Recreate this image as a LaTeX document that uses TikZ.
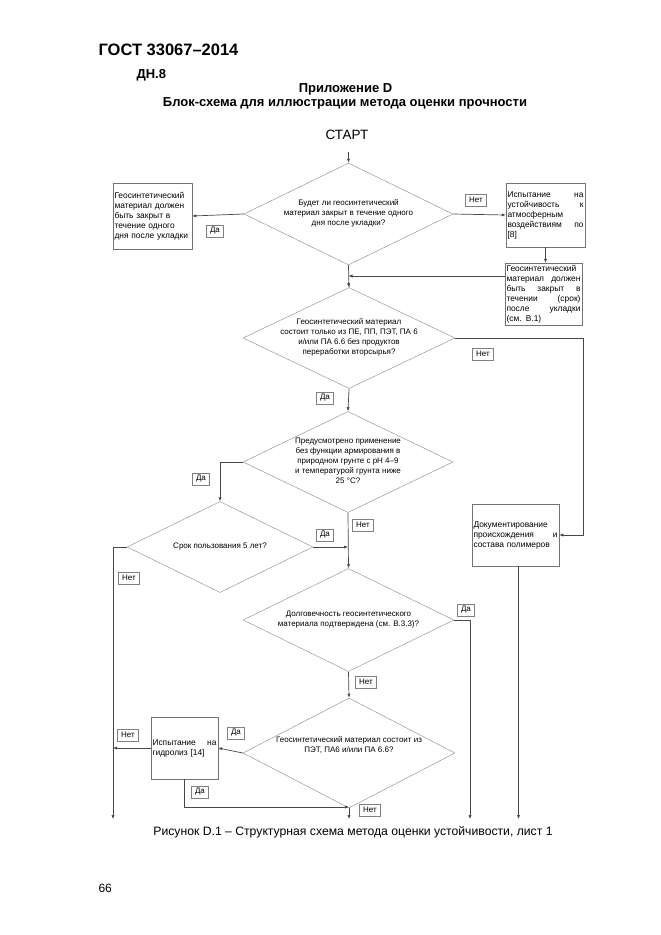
\documentclass[tikz,border=0pt]{standalone}
\usepackage{fontspec}
\setmainfont{Liberation Sans}
\usetikzlibrary{arrows.meta,shapes.geometric,calc}
\newcommand\dtext[2][-2]{\raisebox{#1pt}{\makebox[0pt]{\smash{\begin{tabular}{@{}c@{}}#2\end{tabular}}}}}
\begin{document}
\begin{tikzpicture}[x=1pt,y=-1pt,
 conn/.style={draw=black!72,line width=0.7pt},
 arr/.style={conn,-{Latex[length=4pt,width=3.2pt]}},
 dia/.style={diamond,draw=black!40,line width=0.5pt,inner sep=0pt,font=\fontsize{8}{10}\selectfont},
 bx/.style={rectangle,draw=black!55,line width=0.5pt,inner xsep=1.5pt,inner ysep=0pt,align=left,font=\fontsize{8.4}{10}\selectfont},
 lab/.style={draw=black!50,line width=0.4pt,inner xsep=3.5pt,inner ysep=1.5pt,minimum height=12pt,font=\fontsize{8}{9}\selectfont}]
\useasboundingbox[fill=white] (0,0) rectangle (661,935);

% header
\node[anchor=base west,font=\fontsize{16.5}{18}\selectfont\bfseries] (h1) at (95,55) {ГОСТ 33067–2014};
\node[anchor=base west,font=\fontsize{13}{15}\selectfont\bfseries] (h2) at (133,78) {ДН.8};
\node[anchor=base,font=\fontsize{13}{15}\selectfont\bfseries] (h3) at (345.5,92) {Приложение D};
\node[anchor=base,font=\fontsize{13}{15}\selectfont\bfseries] (h4) at (345,106) {Блок-схема для иллюстрации метода оценки прочности};
\node[anchor=base,font=\fontsize{13.5}{15}\selectfont] (st) at (347,139) {СТАРТ};
\node[anchor=base,font=\fontsize{12.2}{14}\selectfont] (cap) at (353,835) {Рисунок D.1 – Структурная схема метода оценки устойчивости, лист 1};
\node[anchor=base west,font=\fontsize{12}{14}\selectfont] (pg) at (95,892) {66};

% diamonds
\node[dia,minimum width=209pt,minimum height=102pt] (d1) at (348.5,214) {\dtext{Будет ли геосинтетический\\материал закрыт в течение одного\\дня после укладки?}};
\node[dia,minimum width=212pt,minimum height=101pt] (d2) at (349,338) {\dtext{Геосинтетический материал\\состоит только из ПЕ, ПП, ПЭТ, ПА 6\\и/или ПА 6.6 без продуктов\\переработки вторсырья?}};
\node[dia,minimum width=210pt,minimum height=101pt] (d3) at (348,462) {\dtext{Предусмотрено применение\\без функции армирования в\\природном грунте с pH 4–9\\и температурой грунта ниже\\25 °С?}};
\node[dia,minimum width=186pt,minimum height=91pt] (d4) at (220,547) {\dtext{Срок пользования 5 лет?}};
\node[dia,minimum width=211pt,minimum height=103pt] (d5) at (348.5,620) {\dtext{Долговечность геосинтетического\\материала подтверждена (см. В.3.3)?}};
\node[dia,minimum width=212pt,minimum height=110pt] (d6) at (349,753) {\dtext[11]{Геосинтетический материал состоит из\\ПЭТ, ПА6 и/или ПА 6.6?}};

% boxes
\node[bx,text width=76pt,minimum height=66pt] (b1) at (152.5,216) {Геосинтетический\\материал должен\\быть закрыт в\\течение одного\\дня после укладки};
\node[bx,text width=76pt,minimum height=64pt] (b2) at (545.5,215) {Испытание\hfill на\\устойчивость\hfill к\\атмосферным\\воздействиям\hfill по\\{[8]}};
\node[bx,text width=74pt,minimum height=62pt] (b3) at (543.5,294) {Геосинтетический\\материал\hfill должен\\быть\hfill закрыт\hfill в\\течении\hfill (срок)\\после\hfill укладки\\(см. В.1)};
\node[bx,text width=84pt,minimum height=62pt] (doc) at (515.5,535) {Документирование\\происхождения\hfill и\\состава полимеров};
\node[bx,text width=64pt,minimum height=62pt] (hyd) at (184.5,748) {Испытание\hfill на\\гидролиз [14]};

% helper coordinates
\coordinate (start) at (348.5,152);
\coordinate (j1) at (348.5,276);
\coordinate (xr) at (583,0);
\coordinate (xl) at (113,0);
\coordinate (xd) at (470,0);
\coordinate (bot) at (0,819);
\coordinate (yh) at (0,807);

% connectors
\draw[arr] (start) -- (d1.north);
\draw[arr] (d1.west) -- (b1.east);
\draw[arr] (d1.east) -- (b2.west);
\draw[arr] (b2.south) -- (b2.south |- b3.north);
\draw[conn] (d1.south) -- (d2.north);
\draw[arr] (b3.west |- j1) -- (j1);
\draw[arr] (j1 |- d2.north) ++(0,-5) -- (d2.north);
\draw[arr] (d2.east) -| (xr |- doc.east) -- (doc.east);
\draw[arr] (d2.south) -- (d3.north);
\draw[arr] (d3.west) -| (d4.north);
\draw[arr] (d3.south) -- (d5.north);
\draw[arr] (d4.east) -- (d4.east -| d3.south);
\draw[arr] (d4.west) -| (xl |- bot);
\draw[arr] (d5.east) -| (xd |- bot);
\draw[arr] (d5.south) -- (d6.north);
\draw[arr] (d6.west) -- (hyd.east);
\draw[arr] (hyd.west) -- (hyd.west -| xl);
\draw[arr] (hyd.south) |- (yh -| d6.south);
\draw[arr] (d6.south) -- (d6.south |- bot);
\draw[arr] ([xshift=3pt]doc.south) -- ([xshift=3pt]doc.south |- bot);

% labels
\node[lab] (l1) at (215,231) {Да};
\node[lab] (l2) at (476,200) {Нет};
\node[lab] (l3) at (483,354) {Нет};
\node[lab] (l4) at (325,398) {Да};
\node[lab] (l5) at (201,479) {Да};
\node[lab] (l6) at (363,525) {Нет};
\node[lab] (l7) at (325,535) {Да};
\node[lab] (l8) at (129,578) {Нет};
\node[lab] (l9) at (466,610) {Да};
\node[lab] (l10) at (366,682) {Нет};
\node[lab] (l11) at (236,733) {Да};
\node[lab] (l12) at (128,735) {Нет};
\node[lab] (l13) at (200,792) {Да};
\node[lab] (l14) at (370,810) {Нет};
\end{tikzpicture}
\end{document}
